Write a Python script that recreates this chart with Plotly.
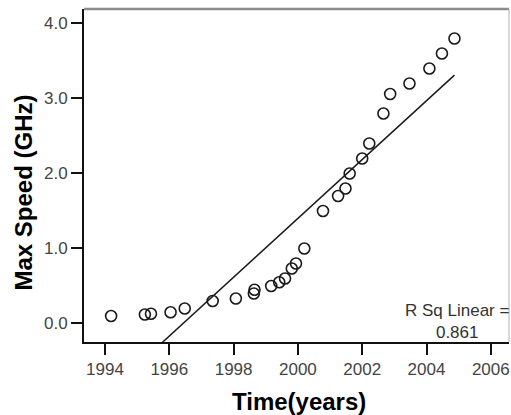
import numpy as np
import plotly.graph_objects as go

# Data
years = [1994.19, 1995.24, 1995.43, 1996.04, 1996.48, 1997.35, 1998.07, 1998.63, 1998.65,
         1999.17, 1999.42, 1999.60, 1999.81, 1999.94, 2000.20, 2000.78, 2001.25, 2001.48,
         2001.61, 2002.00, 2002.22, 2002.66, 2002.87, 2003.47, 2004.09, 2004.48, 2004.87]
speed_ghz = [0.10, 0.12, 0.13, 0.15, 0.20, 0.30, 0.333, 0.40, 0.45,
             0.50, 0.55, 0.60, 0.733, 0.80, 1.00, 1.50, 1.70, 1.80,
             2.00, 2.20, 2.40, 2.80, 3.06, 3.20, 3.40, 3.60, 3.80]

x_tick_vals = [1994, 1996, 1998, 2000, 2002, 2004, 2006]
x_tick_text = ["1994", "1996", "1998", "2000", "2002", "2004", "2006"]
y_tick_vals = [0, 1, 2, 3, 4]
y_tick_text = ["0.0", "1.0", "2.0", "3.0", "4.0"]
r_sq_text = "R Sq Linear =<br>0.861"

# Linear fit over the data range
slope, intercept = np.polyfit(years, speed_ghz, 1)
fit_x = [min(years), max(years)]
fit_y = [slope * v + intercept for v in fit_x]

FONT = "Liberation Sans, Arial, sans-serif"

fig = go.Figure()
fig.add_trace(go.Scatter(x=fit_x, y=fit_y, mode="lines",
                         line=dict(color="#1a1a1a", width=1.5),
                         hoverinfo="skip", showlegend=False))
fig.add_trace(go.Scatter(x=years, y=speed_ghz, mode="markers",
                         marker=dict(symbol="circle-open", size=11,
                                     color="#1a1a1a", line=dict(width=1.6)),
                         cliponaxis=False, showlegend=False))

fig.update_layout(
    width=511, height=415,
    margin=dict(l=84, r=2, t=9, b=73),
    paper_bgcolor="white", plot_bgcolor="white",
    font=dict(family=FONT, color="#444444", size=17),
    showlegend=False,
    xaxis=dict(range=[1993.347, 2006.566], tickvals=x_tick_vals, ticktext=x_tick_text,
               showgrid=False, zeroline=False, showline=True, linecolor="#111111",
               linewidth=2, ticks="outside", ticklen=11, tickwidth=1.5,
               tickcolor="#111111", tickfont=dict(size=17, color="#444444")),
    yaxis=dict(range=[-0.247, 4.193], tickvals=y_tick_vals, ticktext=y_tick_text,
               showgrid=False, zeroline=False, showline=True, linecolor="#111111",
               linewidth=2, ticks="outside", ticklen=11, tickwidth=1.5,
               tickcolor="#111111", tickfont=dict(size=17, color="#444444")),
    shapes=[
        dict(type="line", xref="paper", yref="paper", x0=0, x1=1, y0=1, y1=1,
             line=dict(color="#8c8c8c", width=2.5)),
        dict(type="line", xref="paper", yref="paper", x0=1, x1=1, y0=0, y1=1,
             line=dict(color="#b0b0b0", width=1)),
    ],
    annotations=[
        dict(text="<b>Time(years)</b>", xref="paper", yref="paper",
             x=(298.5 - 84) / 425, y=(342 - 401) / 333, xanchor="center", yanchor="middle",
             showarrow=False, font=dict(family=FONT, size=24, color="#000000")),
        dict(text="<b>Max Speed (GHz)</b>", xref="paper", yref="paper", textangle=-90,
             x=(22.5 - 84) / 425, y=(342 - 193) / 333, xanchor="center", yanchor="middle",
             showarrow=False, font=dict(family=FONT, size=24, color="#000000")),
        dict(text=r_sq_text, xref="paper", yref="paper", x=1, y=(342 - 321) / 333,
             xanchor="right", yanchor="middle", align="center", showarrow=False,
             xshift=2, font=dict(family=FONT, size=17, color="#333333")),
    ],
)

fig.write_html("out.html", config={"displayModeBar": False},
               post_script="document.body.style.margin='0';")
